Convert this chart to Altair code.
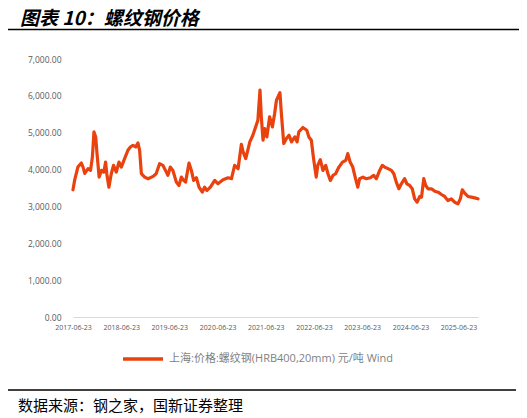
import altair as alt
import pandas as pd

# ---- data ----
dates = [
    "2017-06-23", "2017-07-05", "2017-07-30", "2017-08-25", "2017-09-07", "2017-09-20",
    "2017-10-15", "2017-11-03", "2017-11-17", "2017-11-29", "2017-12-12", "2017-12-22",
    "2018-01-07", "2018-01-25", "2018-02-12", "2018-02-25", "2018-03-06", "2018-03-22",
    "2018-04-09", "2018-04-26", "2018-05-17", "2018-06-06", "2018-06-24", "2018-07-19",
    "2018-08-13", "2018-09-01", "2018-09-20", "2018-10-11", "2018-10-28", "2018-11-10",
    "2018-11-23", "2018-12-18", "2019-01-13", "2019-02-20", "2019-03-15", "2019-04-10",
    "2019-05-05", "2019-05-25", "2019-06-12", "2019-06-30", "2019-07-20", "2019-08-15",
    "2019-09-04", "2019-09-22", "2019-10-09", "2019-10-24", "2019-11-19", "2019-12-07",
    "2019-12-24", "2020-01-14", "2020-02-03", "2020-02-28", "2020-03-16", "2020-04-03",
    "2020-04-29", "2020-06-01", "2020-06-25", "2020-08-03", "2020-09-10", "2020-10-06",
    "2020-10-30", "2020-11-25", "2020-12-20", "2021-01-02", "2021-01-22", "2021-02-22",
    "2021-03-17", "2021-04-07", "2021-04-24", "2021-05-10", "2021-05-20", "2021-06-02",
    "2021-06-14", "2021-07-01", "2021-07-22", "2021-08-12", "2021-08-29", "2021-09-12",
    "2021-10-08", "2021-10-19", "2021-11-06", "2021-11-26", "2021-12-16", "2022-01-04",
    "2022-01-29", "2022-02-15", "2022-02-28", "2022-03-31", "2022-04-30", "2022-05-15",
    "2022-06-03", "2022-06-20", "2022-07-10", "2022-07-22", "2022-08-10", "2022-08-30",
    "2022-09-20", "2022-10-07", "2022-10-25", "2022-11-14", "2022-12-04", "2022-12-29",
    "2023-01-25", "2023-02-19", "2023-03-06", "2023-03-24", "2023-04-13", "2023-05-04",
    "2023-05-21", "2023-06-04", "2023-06-29", "2023-07-24", "2023-08-24", "2023-09-18",
    "2023-10-09", "2023-11-03", "2023-11-23", "2023-12-11", "2024-01-05", "2024-01-31",
    "2024-02-18", "2024-03-08", "2024-03-27", "2024-04-15", "2024-05-10", "2024-05-27",
    "2024-06-17", "2024-07-07", "2024-07-25", "2024-08-12", "2024-09-02", "2024-09-15",
    "2024-10-02", "2024-10-17", "2024-11-04", "2024-11-29", "2024-12-24", "2025-01-19",
    "2025-02-13", "2025-03-09", "2025-04-03", "2025-04-29", "2025-05-24", "2025-06-18",
    "2025-07-06", "2025-07-21", "2025-08-08", "2025-09-02", "2025-09-28", "2025-10-23",
    "2025-11-17",
]
prices = [
    3452, 3706, 4068, 4177, 4068, 3896,
    4024, 3978, 4341, 5022, 4886, 4433,
    3796, 3978, 3932, 4204, 3887, 3523,
    3887, 4114, 3932, 4204, 4068, 4297,
    4523, 4613, 4659, 4613, 4722, 4523,
    3888, 3796, 3752, 3815, 3888, 4160,
    4114, 3978, 3842, 4068, 3978, 3660,
    3569, 3796, 3706, 3660, 4177, 3978,
    3706, 3778, 3523, 3387, 3523, 3433,
    3523, 3706, 3615, 3724, 3778, 3752,
    4114, 4024, 4687, 4478, 4297, 4750,
    4932, 5158, 5340, 6158, 5431, 4796,
    5114, 4886, 5431, 5158, 5523, 5886,
    6085, 5523, 4706, 4842, 4932, 4750,
    4886, 4750, 5022, 5141, 5068, 4886,
    4796, 4297, 3796, 4114, 4270, 3978,
    4114, 3887, 3706, 3842, 3887, 4068,
    4204, 4250, 4433, 4204, 4068, 3752,
    3523, 3752, 3796, 3752, 3778, 3842,
    3752, 3978, 4114, 4068, 4024, 3978,
    3887, 3660, 3478, 3615, 3752, 3615,
    3569, 3478, 3207, 3115, 3270, 3251,
    3752, 3569, 3478, 3478, 3414, 3387,
    3324, 3270, 3160, 3206, 3115, 3071,
    3206, 3452, 3360, 3270, 3251, 3233,
    3207,
]
series_name = "上海:价格:螺纹钢(HRB400,20mm) 元/吨 Wind"
x_tick_dates = ["2017-06-23", "2018-06-23", "2019-06-23", "2020-06-23", "2021-06-23",
                "2022-06-23", "2023-06-23", "2024-06-23", "2025-06-23"]
y_ticks = [0, 1000, 2000, 3000, 4000, 5000, 6000, 7000]

title_text = "图表 10：螺纹钢价格"
source_text = "数据来源：钢之家，国新证券整理"

LINE_COLOR = "#E9420E"
LABEL_COLOR = "#595959"


def ms(s):
    return int(pd.Timestamp(s, tz="UTC").value // 10**6)


df = pd.DataFrame({"date": dates, "price": prices, "series": series_name})

line = alt.Chart(df).mark_line(strokeWidth=3.2, strokeJoin="round", strokeCap="round").encode(
    x=alt.X(
        "date:T",
        scale=alt.Scale(type="utc", domain=[ms(dates[0]), ms(dates[-1])], nice=False),
        axis=alt.Axis(
            values=[ms(d) for d in x_tick_dates], format="%Y-%m-%d",
            labelFont="Open Sans", labelFontSize=7, labelColor=LABEL_COLOR,
            domainColor="#d9d9d9", domainWidth=1, ticks=False, tickSize=0,
            grid=False, labelPadding=6, title=None, labelOverlap=False, labelFlush=False,
        ),
    ),
    y=alt.Y(
        "price:Q",
        scale=alt.Scale(domain=[0, 7000], nice=False, zero=True),
        axis=alt.Axis(
            values=y_ticks, format=",.2f", labelFont="Open Sans", labelFontSize=8.5,
            labelColor=LABEL_COLOR, domain=False, ticks=False, tickSize=0, grid=False,
            labelPadding=12, title=None,
        ),
    ),
    color=alt.Color(
        "series:N",
        scale=alt.Scale(range=[LINE_COLOR]),
        legend=alt.Legend(
            orient="none", legendX=48, legendY=278, title=None, symbolType="stroke",
            symbolSize=1600, symbolStrokeWidth=3.5, labelFontSize=11,
            labelColor="#7f7f7f", labelFont="Open Sans, Noto Sans CJK SC",
            labelLimit=500, padding=0,
        ),
    ),
)

one = alt.Data(values=[{"k": 1}])

title = alt.Chart(one).mark_text(
    align="left", baseline="middle", fontSize=19, fontWeight="bold", fontStyle="italic",
    font="Noto Sans CJK SC", color="#000000",
).encode(x=alt.value(-53), y=alt.value(-40), text=alt.value(title_text))

top_rule = alt.Chart(one).mark_rule(color="#000000", strokeWidth=1.3).encode(
    x=alt.value(-66), x2=alt.value(447), y=alt.value(-29.5)
)

bottom_rule = alt.Chart(one).mark_rule(color="#000000", strokeWidth=1.3).encode(
    x=alt.value(-66), x2=alt.value(443), y=alt.value(331)
)

source = alt.Chart(one).mark_text(
    align="left", baseline="middle", fontSize=15, font="Noto Sans CJK SC", color="#000000",
).encode(x=alt.value(-55), y=alt.value(346.5), text=alt.value(source_text))

chart = alt.layer(top_rule, title, line, bottom_rule, source).properties(
    width=405, height=258,
    autosize=alt.AutoSizeParams(type="none"),
    padding={"left": 65, "top": 51, "right": 41, "bottom": 101},
).configure_view(stroke=None)

chart.save("out.html", embed_options={"renderer": "svg", "actions": False})
